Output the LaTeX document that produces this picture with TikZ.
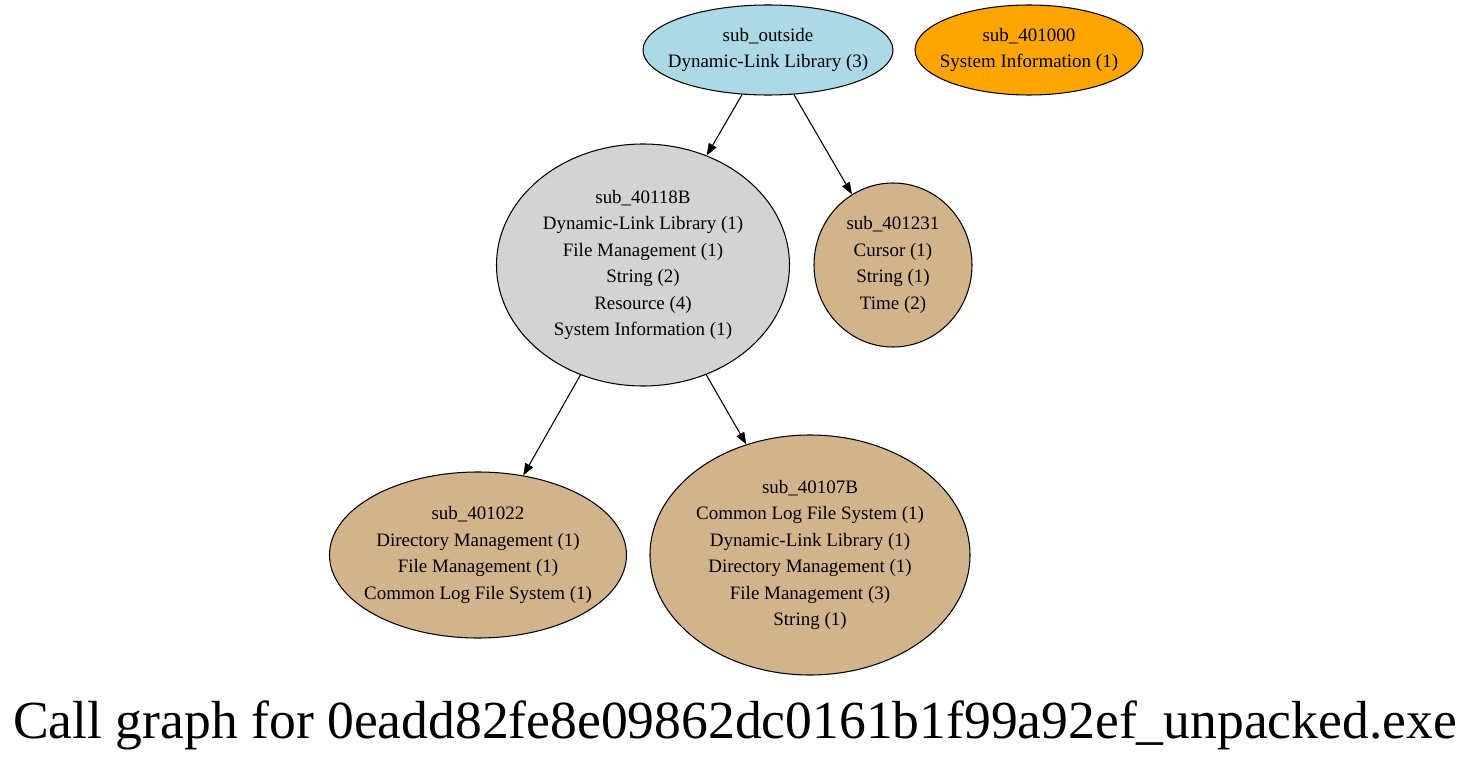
\documentclass[tikz,border=0pt]{standalone}
\usepackage{fontspec}
\setmainfont{Liberation Serif}
\usepackage{tikz}
\usetikzlibrary{shapes.geometric, arrows.meta}
\definecolor{gvblue}{HTML}{ADD8E6}
\definecolor{gvorange}{HTML}{FFA500}
\definecolor{gvgray}{HTML}{D3D3D3}
\definecolor{gvtan}{HTML}{D2B48C}
\tikzset{
    every node/.style={ellipse, draw, inner sep=0pt, align=center, line width=0.6pt,
    	font=\fontsize{10.8}{15.1}\selectfont}
}
\tikzset{
    every label/.style={rectangle, draw=none, fill=none}
}
\tikzset{
    every edge/.append style={line width=0.6pt, -{Triangle[length=6.8pt, width=5pt]}}
}

\begin{document}
\begin{tikzpicture}
	\useasboundingbox (0cm, 0cm) rectangle (29.46cm, -15.36cm);
	\node (1) [fill=gvblue, minimum width=5.0cm, minimum height=1.8cm,
		label=center:{sub\_outside\\Dynamic-Link Library (3)}] at (15.36cm, -1.0cm) {};
	\node (2) [fill=gvorange, minimum width=4.56cm, minimum height=1.8cm,
		label=center:{sub\_401000\\System Information (1)}] at (20.58cm, -1.0cm) {};
	\node (3) [fill=gvgray, minimum width=5.86cm, minimum height=4.84cm,
		label=center:{sub\_40118B\\Dynamic-Link Library (1)\\File Management (1)\\String (2)\\Resource (4)\\System Information (1)}] at (12.86cm, -5.3cm) {};
	\node (4) [fill=gvtan, minimum width=3.16cm, minimum height=3.28cm,
		label=center:{sub\_401231\\Cursor (1)\\String (1)\\Time (2)}] at (17.86cm, -5.3cm) {};
	\node (5) [fill=gvtan, minimum width=5.94cm, minimum height=3.32cm,
		label=center:{sub\_401022\\Directory Management (1)\\File Management (1)\\Common Log File System (1)}] at (9.56cm, -11.1cm) {};
	\node (6) [fill=gvtan, minimum width=6.4cm, minimum height=4.8cm,
		label=center:{sub\_40107B\\Common Log File System (1)\\Dynamic-Link Library (1)\\Directory Management (1)\\File Management (3)\\String (1)}] at (16.2cm, -11.1cm) {};
	\node (7) [rectangle, draw=none, anchor=base, font=\fontsize{30.5}{34}\selectfont] at (14.7cm, -14.76cm)
		{Call graph for 0eadd82fe8e09862dc0161b1f99a92ef\_unpacked.exe};

	\draw (1) edge (3); \draw (1) edge (4);
	\draw (3) edge (5); \draw (3) edge (6);
\end{tikzpicture}
\end{document}
